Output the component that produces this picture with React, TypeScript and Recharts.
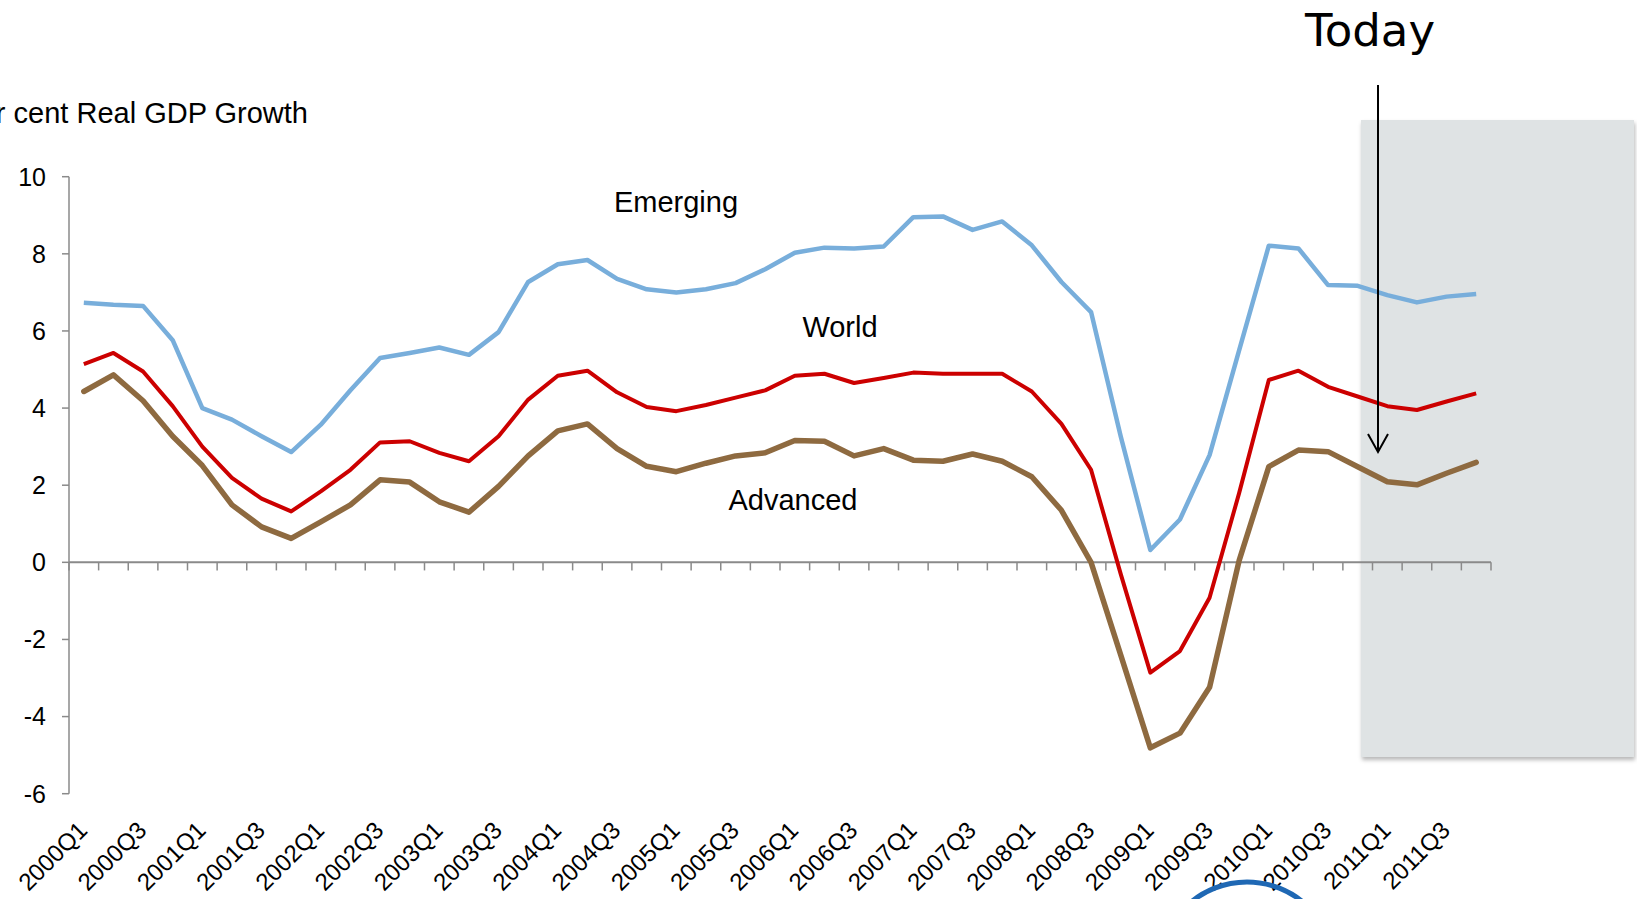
import { LineChart, Line, XAxis, YAxis, ReferenceLine } from 'recharts';

const categories = [
    '2000Q1', '2000Q2', '2000Q3', '2000Q4', '2001Q1', '2001Q2', '2001Q3', '2001Q4',
    '2002Q1', '2002Q2', '2002Q3', '2002Q4', '2003Q1', '2003Q2', '2003Q3', '2003Q4',
    '2004Q1', '2004Q2', '2004Q3', '2004Q4', '2005Q1', '2005Q2', '2005Q3', '2005Q4',
    '2006Q1', '2006Q2', '2006Q3', '2006Q4', '2007Q1', '2007Q2', '2007Q3', '2007Q4',
    '2008Q1', '2008Q2', '2008Q3', '2008Q4', '2009Q1', '2009Q2', '2009Q3', '2009Q4',
    '2010Q1', '2010Q2', '2010Q3', '2010Q4', '2011Q1', '2011Q2', '2011Q3', '2011Q4',
];

const emerging = [
    6.73, 6.68, 6.65, 5.76, 4.0, 3.7, 3.27, 2.86, 3.57, 4.46, 5.3, 5.43,
    5.57, 5.38, 5.97, 7.27, 7.73, 7.84, 7.35, 7.08, 7.0, 7.08, 7.24, 7.6,
    8.03, 8.16, 8.14, 8.19, 8.95, 8.97, 8.62, 8.84, 8.22, 7.27, 6.49, 3.27,
    0.32, 1.11, 2.78, 5.5, 8.21, 8.14, 7.19, 7.17, 6.93, 6.74, 6.89, 6.96,
];

const world = [
    5.14, 5.43, 4.95, 4.05, 3.0, 2.19, 1.65, 1.32, 1.84, 2.4, 3.11, 3.14,
    2.84, 2.62, 3.27, 4.22, 4.84, 4.97, 4.41, 4.03, 3.92, 4.08, 4.27, 4.46,
    4.84, 4.89, 4.65, 4.78, 4.92, 4.89, 4.89, 4.89, 4.43, 3.59, 2.4, -0.3,
    -2.86, -2.3, -0.92, 1.8, 4.73, 4.97, 4.55, 4.3, 4.05, 3.95, 4.17, 4.38,
];

const advanced = [
    4.43, 4.86, 4.19, 3.27, 2.51, 1.49, 0.92, 0.62, 1.05, 1.49, 2.14, 2.08,
    1.57, 1.3, 1.97, 2.76, 3.41, 3.59, 2.95, 2.49, 2.35, 2.57, 2.76, 2.84,
    3.16, 3.14, 2.76, 2.95, 2.65, 2.62, 2.81, 2.62, 2.22, 1.35, 0.0, -2.4,
    -4.81, -4.43, -3.24, 0.05, 2.48, 2.91, 2.87, 2.48, 2.09, 2.01, 2.31, 2.59,
];

const yTicks = [-6, -4, -2, 0, 2, 4, 6, 8, 10];
const xLabelTicks = [0, 2, 4, 6, 8, 10, 12, 14, 16, 18, 20, 22, 24, 26, 28, 30, 32, 34, 36, 38, 40, 42, 44, 46];

const data = categories.map((c, i) => ({
    idx: i,
    quarter: c,
    emerging: emerging[i],
    world: world[i],
    advanced: advanced[i],
}));

// tick marks on the zero line sit between quarters
const boundaries = [...categories.map((_, i) => i - 0.5), categories.length - 0.5];

const FONT = '"Liberation Sans", Arial, sans-serif';
const AXIS = '#8a8a8a';

const QuarterTick = ({ x, y, payload }: any) => {
    const tx = x + 5;
    const ty = y + 38;
    return (
        <text x={tx} y={ty} transform={`rotate(-45 ${tx} ${ty})`} textAnchor="end"
            fontSize={24} fontFamily={FONT} fill="#000">
            {categories[payload.value]}
        </text>
    );
};

export default function App() {
    return (
        <div style={{ position: 'absolute', left: 0, top: 0, width: 1637, height: 899, background: '#fff', overflow: 'hidden' }}>
            {/* forecast shading */}
            <div style={{
                position: 'absolute', left: 1361, top: 120, width: 273, height: 637,
                background: '#dfe3e4', boxShadow: '1px 3px 4px rgba(0,0,0,0.28)',
            }} />

            <div style={{ position: 'absolute', left: 0, top: 0 }}>
                <LineChart width={1637} height={899} data={data}
                    margin={{ top: 176.7, right: 146, bottom: 5.3, left: 0 }}>
                    <XAxis
                        type="number"
                        dataKey="idx"
                        domain={[-0.5, 47.5]}
                        ticks={xLabelTicks}
                        interval={0}
                        axisLine={false}
                        tickLine={false}
                        tickSize={0}
                        tickMargin={0}
                        height={100}
                        tick={<QuarterTick />}
                    />
                    <YAxis
                        type="number"
                        domain={[-6, 10]}
                        ticks={yTicks}
                        interval={0}
                        width={69}
                        axisLine={{ stroke: AXIS, strokeWidth: 1.5 }}
                        tickLine={{ stroke: AXIS, strokeWidth: 1.5 }}
                        tickSize={7}
                        tickMargin={16}
                        tick={{ fill: '#000', fontSize: 25, fontFamily: FONT }}
                    />
                    <ReferenceLine y={0} stroke={AXIS} strokeWidth={2} />
                    {boundaries.map((b) => (
                        <ReferenceLine key={b} segment={[{ x: b, y: 0 }, { x: b, y: -0.21 }]}
                            stroke={AXIS} strokeWidth={1.5} />
                    ))}
                    <Line type="linear" dataKey="emerging" stroke="#78aedb" strokeWidth={4.5}
                        dot={false} isAnimationActive={false} strokeLinejoin="round" />
                    <Line type="linear" dataKey="world" stroke="#cc0000" strokeWidth={4}
                        dot={false} isAnimationActive={false} strokeLinejoin="round" />
                    <Line type="linear" dataKey="advanced" stroke="#8e6a40" strokeWidth={5.5}
                        dot={false} isAnimationActive={false} strokeLinejoin="round" strokeLinecap="round" />
                </LineChart>
            </div>

            {/* annotations */}
            <svg width={1637} height={899} style={{ position: 'absolute', left: 0, top: 0, pointerEvents: 'none' }}>
                <text x={308} y={123} textAnchor="end" fontSize={29} fontFamily={FONT} fill="#000">
                    Per cent Real GDP Growth
                </text>
                <text x={676} y={212} textAnchor="middle" fontSize={29} fontFamily={FONT} fill="#000">Emerging</text>
                <text x={840} y={337} textAnchor="middle" fontSize={29} fontFamily={FONT} fill="#000">World</text>
                <text x={793} y={510} textAnchor="middle" fontSize={29} fontFamily={FONT} fill="#000">Advanced</text>

                <text x={1370} y={46} textAnchor="middle" fontSize={45} fontFamily='"DejaVu Sans", Verdana, sans-serif' fill="#000">
                    Today
                </text>
                <line x1={1378} y1={85} x2={1378} y2={451} stroke="#000" strokeWidth={2} />
                <polyline points="1368,434 1378,452 1388,434" fill="none" stroke="#000" strokeWidth={2} />

                <circle cx={1247} cy={970} r={88} fill="none" stroke="#1f68b4" strokeWidth={5} />
            </svg>
        </div>
    );
}
